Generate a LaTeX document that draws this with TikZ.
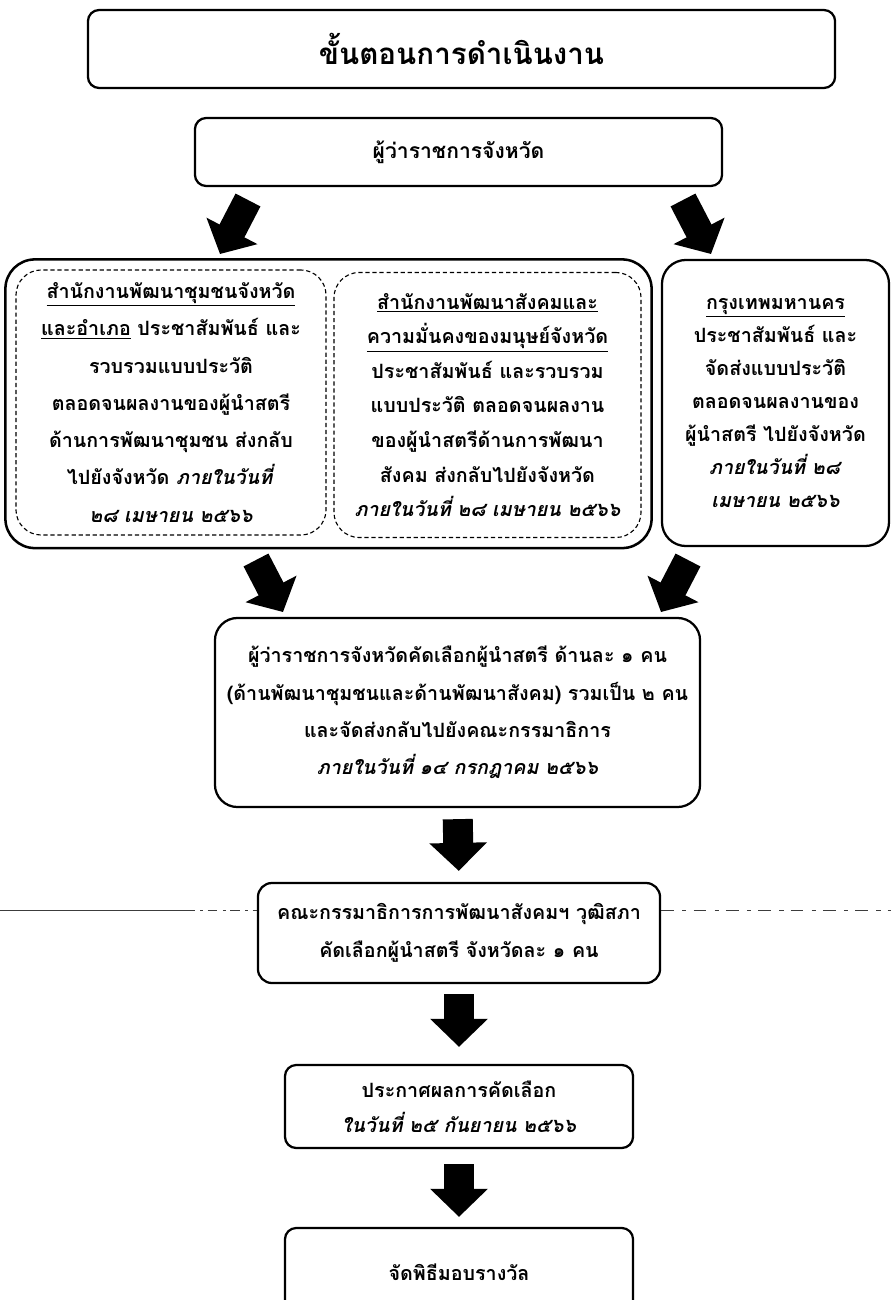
\documentclass[tikz,border=0pt]{standalone}
\usepackage{fontspec}
\setmainfont{Loma}[Script=Thai]
\usetikzlibrary{positioning,fit,arrows.meta}
\definecolor{scangray}{RGB}{60,60,60}

\begin{document}
\begin{tikzpicture}[x=0.025cm,y=-0.025cm,
  box/.style={draw,line width=1.6pt,rounded corners=8pt,align=center,inner sep=0pt,
    font=\fontsize{14}{26.5}\selectfont\bfseries},
  dbox/.style={box,line width=0.8pt,densely dashed,rounded corners=18pt},
  gbox/.style={draw,line width=1.8pt,rounded corners=21pt},
  blockarr/.style={line width=0.75cm,-{Triangle[width=1.4cm,length=0.7cm]}},
  diagarr/.style={line width=0.7cm,-{Triangle[width=1.4cm,length=0.65cm]}},
  scanline/.style={scangray,line width=0.6pt}]

  \useasboundingbox (0,0) rectangle (891,1300);

  \node[box,minimum width=18.675cm,minimum height=1.95cm,
    font=\fontsize{21}{25}\selectfont\bfseries] (title) at (461.5,49) {ขั้นตอนการดำเนินงาน};
  \node[box,minimum width=13.175cm,minimum height=1.7cm,
    font=\fontsize{15}{25}\selectfont\bfseries] (gov) at (458.5,152) {ผู้ว่าราชการจังหวัด};

  % offices that collect the forms
  \node[dbox,minimum width=7.75cm,minimum height=6.625cm] (cdo) at (171,402.5)
    {\underline{สำนักงานพัฒนาชุมชนจังหวัด}\\
     \underline{และอำเภอ} ประชาสัมพันธ์ และ\\
     รวบรวมแบบประวัติ\\
     ตลอดจนผลงานของผู้นำสตรี\\
     ด้านการพัฒนาชุมชน ส่งกลับ\\
     ไปยังจังหวัด \textit{ภายในวันที่}\\
     \textit{๒๘ เมษายน ๒๕๖๖}};
  \node[dbox,minimum width=7.675cm,minimum height=6.625cm,
    font=\fontsize{14}{24.6}\selectfont\bfseries] (sdhs) at (487.5,405)
    {\underline{สำนักงานพัฒนาสังคมและ}\\
     \underline{ความมั่นคงของมนุษย์จังหวัด}\\
     ประชาสัมพันธ์ และรวบรวม\\
     แบบประวัติ ตลอดจนผลงาน\\
     ของผู้นำสตรีด้านการพัฒนา\\
     สังคม ส่งกลับไปยังจังหวัด\\
     \textit{ภายในวันที่ ๒๘ เมษายน ๒๕๖๖}};
  \node[gbox,fit=(cdo)(sdhs),inner xsep=0.25cm,inner ysep=0.25cm] (offices) {};
  \node[box,rounded corners=17pt,minimum width=5.675cm,minimum height=7.15cm,
    font=\fontsize{14}{23.5}\selectfont\bfseries] (bkk) at (775.5,403)
    {\underline{กรุงเทพมหานคร}\\
     ประชาสัมพันธ์ และ\\
     จัดส่งแบบประวัติ\\
     ตลอดจนผลงานของ\\
     ผู้นำสตรี ไปยังจังหวัด\\
     \textit{ภายในวันที่ ๒๘}\\
     \textit{เมษายน ๒๕๖๖}};

  \node[box,rounded corners=16pt,minimum width=12.125cm,minimum height=4.725cm] (select) at (457.5,712.5)
    {ผู้ว่าราชการจังหวัดคัดเลือกผู้นำสตรี ด้านละ ๑ คน\\
     (ด้านพัฒนาชุมชนและด้านพัฒนาสังคม) รวมเป็น ๒ คน\\
     และจัดส่งกลับไปยังคณะกรรมาธิการ\\
     \textit{ภายในวันที่ ๑๔ กรกฎาคม ๒๕๖๖}};
  \node[box,rounded corners=10pt,minimum width=10.05cm,minimum height=2.5cm,
    font=\fontsize{14}{27}\selectfont\bfseries] (senate) at (459,933)
    {คณะกรรมาธิการการพัฒนาสังคมฯ วุฒิสภา\\
     คัดเลือกผู้นำสตรี จังหวัดละ ๑ คน};
  \node[box,minimum width=8.7cm,minimum height=2.075cm,
    font=\fontsize{14}{25}\selectfont\bfseries] (announce) at (459,1106.5)
    {ประกาศผลการคัดเลือก\\
     \textit{ในวันที่ ๒๕ กันยายน ๒๕๖๖}};
  \node[box,minimum width=8.7cm,minimum height=2.2cm] (award) at (459,1272) {จัดพิธีมอบรางวัล};

  % arrow ends
  \coordinate (tl-s) at (248,200);
  \coordinate (tl-e) at (220,254);
  \coordinate (tr-s) at (683,200);
  \coordinate (tr-e) at (711,254);
  \coordinate (bl-s) at (256,560);
  \coordinate (bl-e) at (283,612);
  \coordinate (br-s) at (688,560);
  \coordinate (br-e) at (661,612);

  \draw[diagarr] (tl-s) -- (tl-e);
  \draw[diagarr] (tr-s) -- (tr-e);
  \draw[diagarr] (bl-s) -- (bl-e);
  \draw[diagarr] (br-s) -- (br-e);

  \draw[blockarr,shorten <=0.275cm,shorten >=0.275cm] (select.south) -- (senate.north);
  \draw[blockarr,shorten <=0.25cm,shorten >=0.425cm] (senate.south) -- (announce.north);
  \draw[blockarr,shorten <=0.375cm,shorten >=0.25cm] (announce.south) -- (award.north);

  % stray scan line across the page
  \coordinate (sl-l) at (0,910);
  \coordinate (sl-m) at (185,910);
  \coordinate (sl-r) at (891,910);
  \draw[scanline] (sl-l) -- (sl-m);
  \draw[scanline,dash pattern=on 7pt off 4pt on 2pt off 3pt] (sl-m) -- (senate.west |- sl-m);
  \draw[scanline,dash pattern=on 9pt off 6pt on 3pt off 5pt] (senate.east |- sl-r) -- (sl-r);
\end{tikzpicture}
\end{document}
